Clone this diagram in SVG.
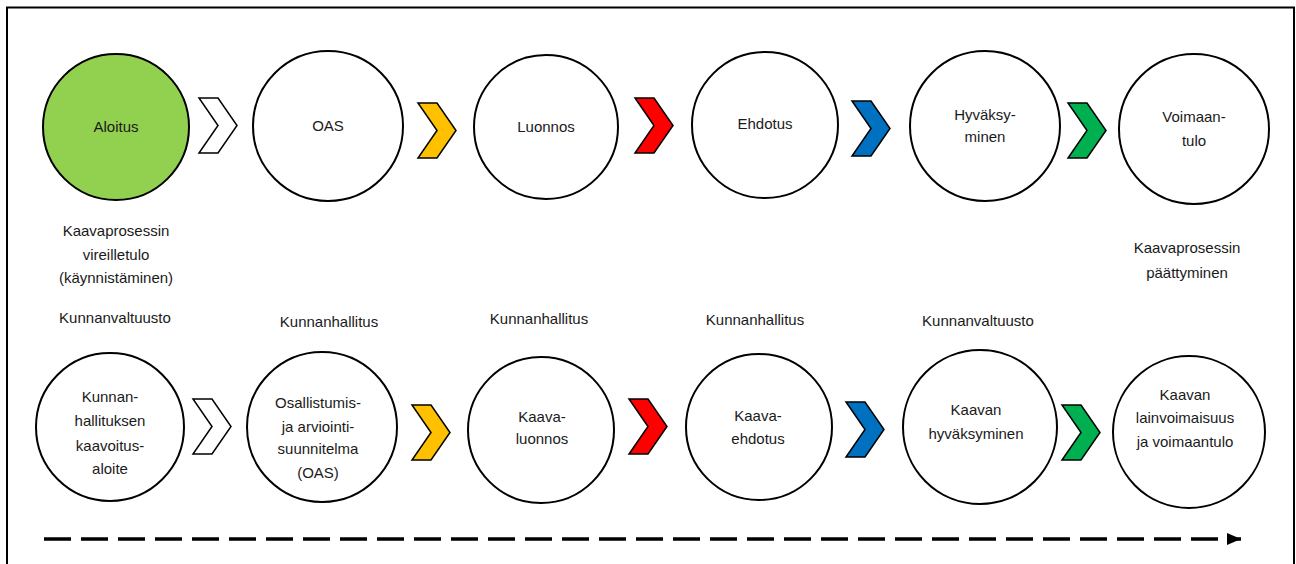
<svg xmlns="http://www.w3.org/2000/svg" width="1296" height="564" viewBox="0 0 1296 564">
<style>
.c{fill:#fff;stroke:#000;stroke-width:2}
.t{font-family:"Liberation Sans",Arial,sans-serif;font-size:15px;fill:#1a1a1a;text-anchor:middle}
.ch{stroke:#000;stroke-width:1.5;stroke-linejoin:miter}
</style>
<defs>
<path id="chev" d="M0,0 L19,0 L38,27.5 L19,55 L0,55 L19,27.5 Z"/>
<marker id="ah" markerWidth="14" markerHeight="12" refX="14" refY="6" orient="auto" markerUnits="userSpaceOnUse">
<path d="M0,0 L14,6 L0,12 Z" fill="#000"/>
</marker>
</defs>
<rect x="0" y="0" width="1296" height="564" fill="#fff"/>
<rect x="7" y="7.5" width="1287" height="580" fill="none" stroke="#000" stroke-width="2"/>

<g id="connectors">
<use href="#chev" class="ch" fill="#fff" transform="translate(199,98)"/>
<use href="#chev" class="ch" fill="#FFC000" transform="translate(418,103)"/>
<use href="#chev" class="ch" fill="#FF0000" transform="translate(635,98)"/>
<use href="#chev" class="ch" fill="#0070C0" transform="translate(852,101)"/>
<use href="#chev" class="ch" fill="#00B050" transform="translate(1068,103)"/>
<use href="#chev" class="ch" fill="#fff" transform="translate(193,399)"/>
<use href="#chev" class="ch" fill="#FFC000" transform="translate(412,405)"/>
<use href="#chev" class="ch" fill="#FF0000" transform="translate(629,399)"/>
<use href="#chev" class="ch" fill="#0070C0" transform="translate(846,402)"/>
<use href="#chev" class="ch" fill="#00B050" transform="translate(1062,405)"/>
<line x1="44" y1="539" x2="1241" y2="539" stroke="#000" stroke-width="3.5" stroke-dasharray="27 10" marker-end="url(#ah)"/>
</g>

<g id="n-aloitus">
<circle cx="116" cy="127" r="73" fill="#92D050" stroke="#000" stroke-width="2"/>
<text class="t" x="116" y="132">Aloitus</text>
<text class="t" x="116" y="236">Kaavaprosessin</text>
<text class="t" x="116" y="260">vireilletulo</text>
<text class="t" x="116" y="283">(käynnistäminen)</text>
</g>
<g id="n-oas">
<circle class="c" cx="328" cy="126" r="75"/>
<text class="t" x="328" y="131">OAS</text>
</g>
<g id="n-luonnos">
<circle class="c" cx="546" cy="127" r="72"/>
<text class="t" x="546" y="132">Luonnos</text>
</g>
<g id="n-ehdotus">
<circle class="c" cx="765" cy="125" r="73"/>
<text class="t" x="765" y="129">Ehdotus</text>
</g>
<g id="n-hyvaksyminen">
<circle class="c" cx="985" cy="126" r="75"/>
<text class="t" x="985" y="120">Hyväksy-</text>
<text class="t" x="985" y="142">minen</text>
</g>
<g id="n-voimaantulo">
<circle class="c" cx="1194" cy="129" r="75"/>
<text class="t" x="1194" y="122">Voimaan-</text>
<text class="t" x="1194" y="146">tulo</text>
<text class="t" x="1187" y="253">Kaavaprosessin</text>
<text class="t" x="1187" y="278">päättyminen</text>
</g>

<g id="labels">
<text class="t" x="115" y="323">Kunnanvaltuusto</text>
<text class="t" x="329" y="327">Kunnanhallitus</text>
<text class="t" x="539" y="324">Kunnanhallitus</text>
<text class="t" x="755" y="325">Kunnanhallitus</text>
<text class="t" x="978" y="326">Kunnanvaltuusto</text>
</g>

<g id="n-aloite">
<circle class="c" cx="110" cy="427" r="74"/>
<text class="t" x="110" y="402">Kunnan-</text>
<text class="t" x="110" y="426">hallituksen</text>
<text class="t" x="110" y="451">kaavoitus-</text>
<text class="t" x="110" y="474">aloite</text>
</g>
<g id="n-osallistumis">
<circle class="c" cx="322" cy="427" r="75"/>
<text class="t" x="318" y="408">Osallistumis-</text>
<text class="t" x="318" y="432">ja arviointi-</text>
<text class="t" x="318" y="454">suunnitelma</text>
<text class="t" x="318" y="478">(OAS)</text>
</g>
<g id="n-kaavaluonnos">
<circle class="c" cx="541" cy="430" r="73"/>
<text class="t" x="542" y="422">Kaava-</text>
<text class="t" x="542" y="444">luonnos</text>
</g>
<g id="n-kaavaehdotus">
<circle class="c" cx="759" cy="427" r="73"/>
<text class="t" x="758" y="421">Kaava-</text>
<text class="t" x="758" y="444">ehdotus</text>
</g>
<g id="n-hyvaksyminen2">
<circle class="c" cx="980" cy="427" r="77"/>
<text class="t" x="976" y="415">Kaavan</text>
<text class="t" x="976" y="439">hyväksyminen</text>
</g>
<g id="n-lainvoimaisuus">
<circle class="c" cx="1189" cy="432" r="76"/>
<text class="t" x="1185" y="400">Kaavan</text>
<text class="t" x="1185" y="423">lainvoimaisuus</text>
<text class="t" x="1185" y="447">ja voimaantulo</text>
</g>
</svg>
